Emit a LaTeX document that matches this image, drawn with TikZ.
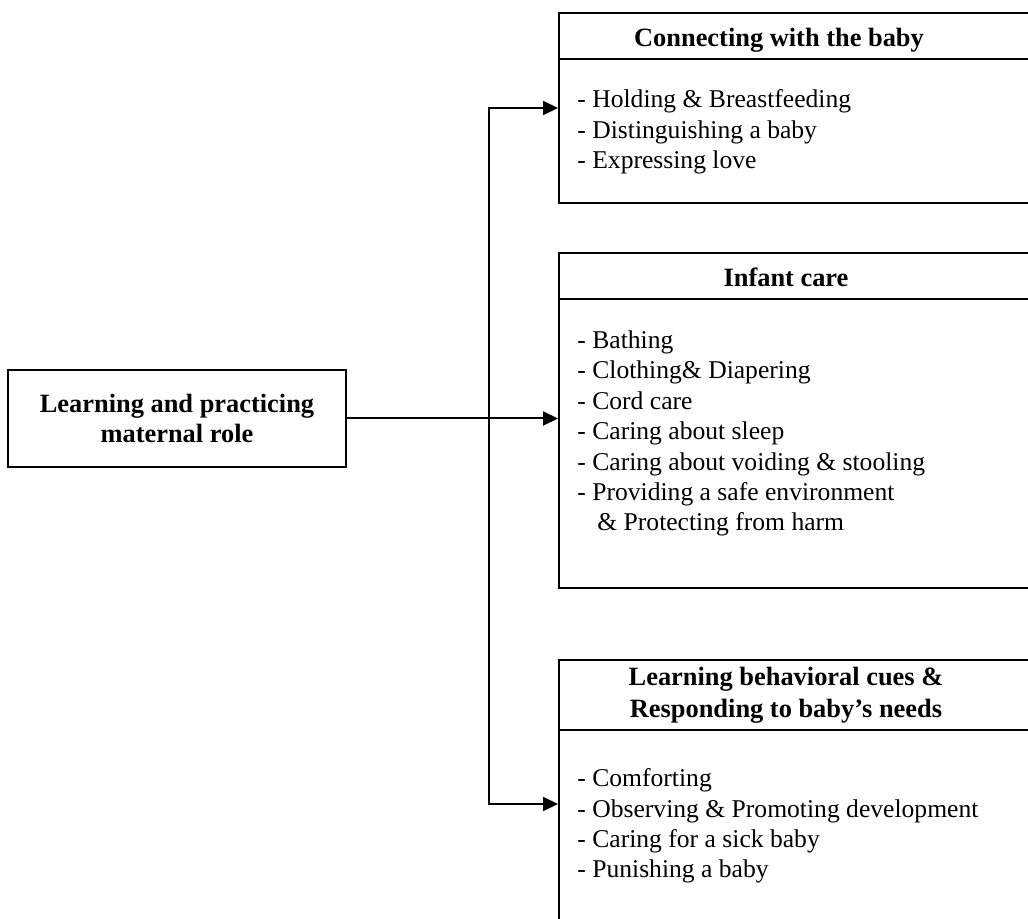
\documentclass[tikz,border=0pt]{standalone}
\usepackage{fontspec}
\setmainfont{Liberation Serif}
\usepackage{tikz}
\usetikzlibrary{arrows.meta,positioning,calc}

\begin{document}
\begin{tikzpicture}[x=0.5pt,y=-0.5pt,
    frame/.style={draw,line width=1pt,anchor=north west,inner sep=0pt},
    head/.style={font=\fontsize{13.2}{16}\selectfont\bfseries,align=center,inner sep=0pt},
    items/.style={font=\fontsize{12.8}{15.2}\selectfont,align=left,anchor=west,inner sep=0pt},
    link/.style={line width=1pt,-{Triangle[length=7.5pt,width=7pt]}}]
    % Page
    \useasboundingbox (0,0) rectangle (1028,919);
    \clip (0,0) rectangle (1028,919);

    % Main box
    \node[head,draw,line width=1pt,minimum width=169pt,minimum height=48.5pt,
          font=\fontsize{13.2}{15}\selectfont\bfseries] (role) at (177,418.5)
          {Learning and practicing\\maternal role};

    % Connecting with the baby
    \node[frame,minimum width=241pt,minimum height=95pt] (conbox) at (558,12) {};
    \draw[line width=1pt] ([yshift=-23.5pt]conbox.north west) -- ([yshift=-23.5pt]conbox.north east);
    \node[head,anchor=base] (conhead) at (779,47) {Connecting with the baby};
    \node[items] (conlist) at (577,132)
        {- Holding \& Breastfeeding\\- Distinguishing a baby\\- Expressing love};

    % Infant care
    \node[frame,minimum width=241pt,minimum height=167.5pt] (carebox) at (558,252) {};
    \draw[line width=1pt] ([yshift=-23.5pt]carebox.north west) -- ([yshift=-23.5pt]carebox.north east);
    \node[head,anchor=base] (carehead) at (786,287) {Infant care};
    \node[items] (carelist) at (577,433.5)
        {- Bathing\\- Clothing\& Diapering\\- Cord care\\- Caring about sleep\\
         - Caring about voiding \& stooling\\- Providing a safe environment\\
         \hspace*{10pt}\& Protecting from harm};

    % Behavioral cues
    \node[frame,minimum width=241pt,minimum height=144pt] (cuebox) at (558,659) {};
    \draw[line width=1pt] ([yshift=-35.5pt]cuebox.north west) -- ([yshift=-35.5pt]cuebox.north east);
    \node[head] (cuehead) at (786,695) {Learning behavioral cues \&\\Responding to baby’s needs};
    \node[items] (cuelist) at (577,826)
        {- Comforting\\- Observing \& Promoting development\\- Caring for a sick baby\\- Punishing a baby};

    % Connectors
    \coordinate (trunk) at (489,418.5);
    \draw[link] (role.east) -- (role.east -| carebox.west);
    \draw[link] (trunk) |- (conbox.west);
    \draw[link] (trunk) |- (cuebox.west);
\end{tikzpicture}
\end{document}
